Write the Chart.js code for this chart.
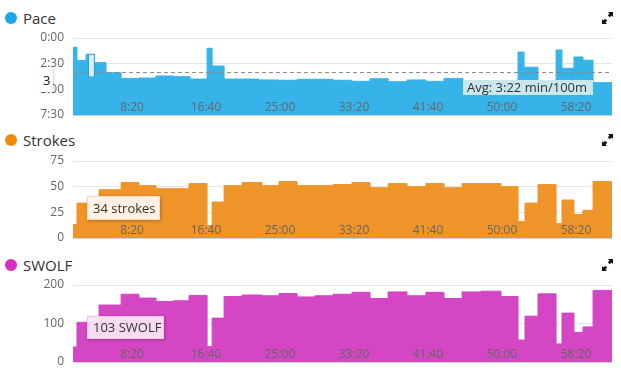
<!DOCTYPE html>
<html>
<head>
<meta charset="utf-8">
<script src="https://cdn.jsdelivr.net/npm/chart.js@4.4.0/dist/chart.umd.min.js"></script>
<style>
  body { margin: 0; background: #fff; font-family: "Open Sans", sans-serif; }
  #wrap { position: relative; width: 621px; height: 375px; overflow: hidden; }
  .chart { position: absolute; left: 0; }
  .dot { position: absolute; left: 5px; width: 12px; height: 12px; border-radius: 50%; }
  .title { position: absolute; left: 23px; font-size: 15px; line-height: 18px; color: #333; }
  .expand { position: absolute; left: 602px; width: 11px; height: 12px; }
  .box { position: absolute; color: #333; white-space: nowrap; }
</style>
</head>
<body>
<div id="wrap">
  <div class="dot" style="top:12px;background:#1ba6e8"></div>
  <div class="title" style="top:9px">Pace</div>
  <div class="dot" style="top:134px;background:#ef8a0c"></div>
  <div class="title" style="top:131px">Strokes</div>
  <div class="dot" style="top:259px;background:#d22fbd"></div>
  <div class="title" style="top:256px">SWOLF</div>

  <svg class="expand" style="top:12px" viewBox="0 0 11 12"><path d="M6 0H11V5L9.5 3.5L7.8 5.2L5.8 3.2L7.5 1.5Z M5 12H0V7L1.5 8.5L3.2 6.8L5.2 8.8L3.5 10.5Z" fill="#111"/></svg>
  <svg class="expand" style="top:134px" viewBox="0 0 11 12"><path d="M6 0H11V5L9.5 3.5L7.8 5.2L5.8 3.2L7.5 1.5Z M5 12H0V7L1.5 8.5L3.2 6.8L5.2 8.8L3.5 10.5Z" fill="#111"/></svg>
  <svg class="expand" style="top:259px" viewBox="0 0 11 12"><path d="M6 0H11V5L9.5 3.5L7.8 5.2L5.8 3.2L7.5 1.5Z M5 12H0V7L1.5 8.5L3.2 6.8L5.2 8.8L3.5 10.5Z" fill="#111"/></svg>

  <canvas id="pace" class="chart" width="621" height="93" style="top:30px"></canvas>
  <canvas id="strokes" class="chart" width="621" height="93" style="top:153px"></canvas>
  <canvas id="swolf" class="chart" width="621" height="93" style="top:277px"></canvas>

  <div class="box" style="left:463px;top:80px;width:126px;height:15px;line-height:15px;padding-left:4px;font-size:13px;background:#c8e7ee">Avg: 3:22 min/100m</div>
  <div class="box" style="left:40px;top:68px;width:10px;height:24px;line-height:24px;padding-left:3px;font-size:13px;color:#111;background:#fff;box-shadow:1px 1px 2px rgba(0,0,0,0.2)">3</div>
  <div class="box" style="left:87px;top:196px;width:66px;height:22px;line-height:22px;padding-left:5px;font-size:13px;background:rgba(255,246,237,0.95);border:1px solid #f1dcc7;box-shadow:1px 1px 3px rgba(0,0,0,0.25)">34 strokes</div>
  <div class="box" style="left:87px;top:316px;width:70px;height:21px;line-height:21px;padding-left:5px;font-size:13px;background:rgba(250,228,246,0.95);border:1px solid #ecc8e6;box-shadow:1px 1px 3px rgba(0,0,0,0.25)">103 SWOLF</div>
</div>

<script>
// x axis (seconds)
var xMin = 101;
var xMax = 3743;
var timeTicks = [500, 1000, 1500, 2000, 2500, 3000, 3500];

// pace samples: start time (s) and pace (s per 100m)
var paceStart = [101, 128, 189, 203, 243, 324, 426, 547, 662, 777, 892, 1007, 1041, 1122, 1243, 1358, 1486, 1615, 1858, 1986, 2108, 2230, 2358, 2486, 2608, 2736, 3108, 3149, 3243, 3365, 3405, 3486, 3547, 3615];
var pace = [54, 132, 95, 228, 144, 203, 236, 234, 222, 226, 240, 60, 164, 240, 240, 245, 247, 241, 247, 253, 238, 255, 245, 253, 236, 255, 82, 171, 261, 70, 177, 111, 130, 261];
var paceAvg = 202;
var paceTicks = [0, 150, 300, 450];

// lengths: start time (s), strokes and swolf per length
var lengthStart = [101, 128, 277, 426, 547, 662, 777, 885, 1007, 1041, 1122, 1243, 1378, 1493, 1615, 1736, 1858, 1986, 2108, 2230, 2358, 2486, 2608, 2730, 2858, 2993, 3108, 3155, 3243, 3365, 3405, 3486, 3547, 3615];
var strokes = [13, 34, 47, 54, 51, 48, 48, 53, 12, 35, 51, 54, 51, 55, 51, 51, 52, 54, 49, 53, 50, 53, 49, 53, 53, 50, 16, 34, 52, 14, 37, 23, 27, 55];
var swolf = [39, 103, 148, 176, 166, 157, 159, 173, 40, 114, 170, 174, 172, 178, 169, 172, 176, 181, 165, 182, 172, 181, 165, 182, 184, 170, 57, 119, 177, 47, 127, 77, 91, 186];
var strokeTicks = [0, 25, 50, 75];
var swolfTicks = [0, 100, 200];

// hovered sample on the pace chart
var hoverFrom = 203, hoverTo = 243, hoverTop = 95;

function clock(s) {
  var m = Math.floor(s / 60);
  var r = Math.round(s % 60);
  return m + ':' + (r < 10 ? '0' : '') + r;
}

function steps(starts, vals) {
  var pts = [];
  for (var i = 0; i < starts.length; i++) {
    pts.push({ x: starts[i], y: vals[i] });
  }
  pts.push({ x: xMax, y: vals[vals.length - 1] });
  return pts;
}

// time labels sit inside the plot, over the fill
var timeLabels = {
  id: 'timeLabels',
  afterDraw: function (chart) {
    var x = chart.scales.x, area = chart.chartArea, ctx = chart.ctx;
    ctx.save();
    ctx.strokeStyle = '#c6d4e1';
    ctx.lineWidth = 1;
    ctx.beginPath();
    ctx.moveTo(area.left, Math.round(area.bottom) + 0.5);
    ctx.lineTo(area.right, Math.round(area.bottom) + 0.5);
    ctx.stroke();
    ctx.font = '12px "Open Sans"';
    ctx.fillStyle = '#666';
    ctx.textAlign = 'center';
    ctx.textBaseline = 'middle';
    timeTicks.forEach(function (t) {
      ctx.fillText(clock(t), x.getPixelForValue(t), area.bottom - 7);
    });
    ctx.restore();
  }
};

function makeOptions(yMin, yMax, yTicks, yFormat, reverse) {
  return {
    responsive: false,
    animation: false,
    layout: { padding: { top: 8, bottom: 8, left: 0, right: 9 } },
    plugins: { legend: { display: false }, tooltip: { enabled: false } },
    scales: {
      x: { type: 'linear', min: xMin, max: xMax, display: false },
      y: {
        min: yMin,
        max: yMax,
        reverse: reverse,
        afterFit: function (s) {
          s.width = 73;
          s.paddingTop = 0;
          s.paddingBottom = 0;
        },
        afterBuildTicks: function (s) { s.ticks = yTicks.map(function (v) { return { value: v }; }); },
        grid: { color: '#e6e6e6', drawTicks: false },
        border: { display: false },
        ticks: {
          padding: 9,
          color: '#666',
          font: { family: 'Open Sans', size: 12 },
          callback: yFormat
        }
      }
    }
  };
}

function areaSet(data, color) {
  return {
    data: data,
    stepped: 'before',
    fill: 'start',
    backgroundColor: color,
    borderColor: color,
    borderWidth: 1,
    pointRadius: 0,
    order: 1
  };
}

var hoverBand = {
  id: 'hoverBand',
  afterDatasetsDraw: function (chart) {
    var x = chart.scales.x, y = chart.scales.y, ctx = chart.ctx;
    var x0 = x.getPixelForValue(hoverFrom), x1 = x.getPixelForValue(hoverTo);
    var y0 = y.getPixelForValue(hoverTop), y1 = y.getPixelForValue(pace[3]);
    ctx.save();
    ctx.fillStyle = '#dcedf6';
    ctx.fillRect(x0, y0, x1 - x0, y1 - y0);
    ctx.strokeStyle = '#2a9fd6';
    ctx.lineWidth = 1;
    ctx.strokeRect(Math.round(x0) + 0.5, y0, x1 - x0, y1 - y0);
    ctx.restore();
  }
};

new Chart(document.getElementById('pace'), {
  type: 'line',
  data: {
    datasets: [
      {
        data: [{ x: xMin, y: paceAvg }, { x: xMax, y: paceAvg }],
        borderColor: '#888',
        borderWidth: 1,
        borderDash: [4, 3],
        pointRadius: 0,
        fill: false,
        order: 0
      },
      areaSet(steps(paceStart, pace), '#36b4ea')
    ]
  },
  options: makeOptions(0, 450, paceTicks, function (v) { return clock(v); }, true),
  plugins: [hoverBand, timeLabels]
});

new Chart(document.getElementById('strokes'), {
  type: 'line',
  data: { datasets: [areaSet(steps(lengthStart, strokes), '#ef9428')] },
  options: makeOptions(0, 75, strokeTicks, function (v) { return v; }, false),
  plugins: [timeLabels]
});

new Chart(document.getElementById('swolf'), {
  type: 'line',
  data: { datasets: [areaSet(steps(lengthStart, swolf), '#d446c3')] },
  options: makeOptions(0, 200, swolfTicks, function (v) { return v; }, false),
  plugins: [timeLabels]
});
</script>
</body>
</html>
